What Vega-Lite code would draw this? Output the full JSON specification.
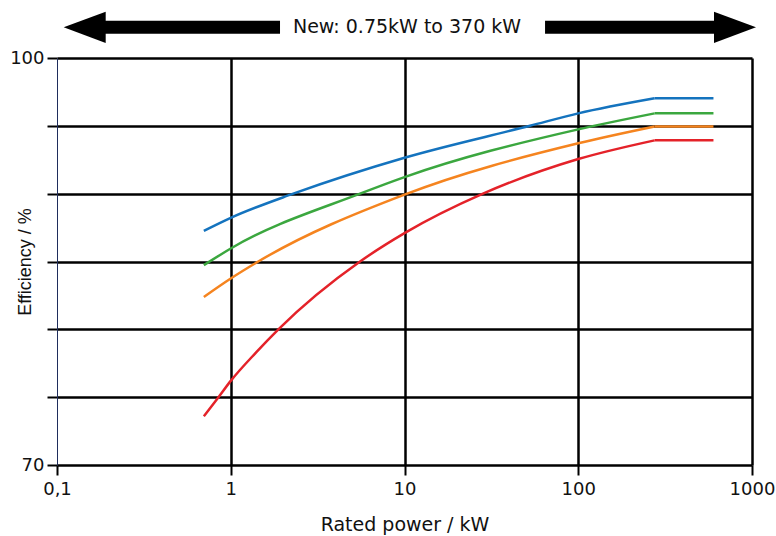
{
  "$schema": "https://vega.github.io/schema/vega-lite/v6.json",
  "width": 695,
  "height": 407,
  "autosize": {"type": "none"},
  "padding": {"left": 57, "top": 58, "right": 24, "bottom": 71},
  "background": "white",
  "config": {"view": {"stroke": null}, "font": "DejaVu Sans"},
  "datasets": {
    "curves": [
      {"kW": 0.7, "eff": 87.26, "cls": "IE4", "seg": "curve"},
      {"kW": 1, "eff": 88.22, "cls": "IE4", "seg": "curve"},
      {"kW": 2.29, "eff": 90.0, "cls": "IE4", "seg": "curve"},
      {"kW": 10, "eff": 92.65, "cls": "IE4", "seg": "curve"},
      {"kW": 52.7, "eff": 95.0, "cls": "IE4", "seg": "curve"},
      {"kW": 100, "eff": 95.92, "cls": "IE4", "seg": "curve"},
      {"kW": 275, "eff": 97.03, "cls": "IE4", "seg": "curve"},
      {"kW": 275, "eff": 97.03, "cls": "IE4", "seg": "flat"},
      {"kW": 600, "eff": 97.03, "cls": "IE4", "seg": "flat"},
      {"kW": 0.7, "eff": 84.73, "cls": "IE3", "seg": "curve"},
      {"kW": 1, "eff": 85.96, "cls": "IE3", "seg": "curve"},
      {"kW": 5.55, "eff": 90.0, "cls": "IE3", "seg": "curve"},
      {"kW": 10, "eff": 91.22, "cls": "IE3", "seg": "curve"},
      {"kW": 100, "eff": 94.74, "cls": "IE3", "seg": "curve"},
      {"kW": 275, "eff": 95.92, "cls": "IE3", "seg": "curve"},
      {"kW": 275, "eff": 95.92, "cls": "IE3", "seg": "flat"},
      {"kW": 600, "eff": 95.92, "cls": "IE3", "seg": "flat"},
      {"kW": 0.7, "eff": 82.39, "cls": "IE2", "seg": "curve"},
      {"kW": 1, "eff": 83.75, "cls": "IE2", "seg": "curve"},
      {"kW": 1.44, "eff": 85.0, "cls": "IE2", "seg": "curve"},
      {"kW": 10, "eff": 89.93, "cls": "IE2", "seg": "curve"},
      {"kW": 100, "eff": 93.71, "cls": "IE2", "seg": "curve"},
      {"kW": 275, "eff": 94.95, "cls": "IE2", "seg": "curve"},
      {"kW": 275, "eff": 94.95, "cls": "IE2", "seg": "flat"},
      {"kW": 600, "eff": 94.95, "cls": "IE2", "seg": "flat"},
      {"kW": 0.7, "eff": 73.59, "cls": "IE1", "seg": "curve"},
      {"kW": 0.85, "eff": 75.0, "cls": "IE1", "seg": "curve"},
      {"kW": 1, "eff": 76.2, "cls": "IE1", "seg": "curve"},
      {"kW": 1.4, "eff": 78.3, "cls": "IE1", "seg": "curve"},
      {"kW": 1.88, "eff": 80.0, "cls": "IE1", "seg": "curve"},
      {"kW": 5.55, "eff": 85.0, "cls": "IE1", "seg": "curve"},
      {"kW": 10, "eff": 87.09, "cls": "IE1", "seg": "curve"},
      {"kW": 28.3, "eff": 90.0, "cls": "IE1", "seg": "curve"},
      {"kW": 100, "eff": 92.55, "cls": "IE1", "seg": "curve"},
      {"kW": 275, "eff": 93.93, "cls": "IE1", "seg": "curve"},
      {"kW": 275, "eff": 93.93, "cls": "IE1", "seg": "flat"},
      {"kW": 600, "eff": 93.93, "cls": "IE1", "seg": "flat"}
    ],
    "arrowBars": [
      {"from": 0.1768, "to": 1.921, "pos": 102.26},
      {"from": 64.4, "to": 654, "pos": 102.26}
    ],
    "arrowLeft": [{"kW": 0.1443, "pos": 102.26}],
    "arrowRight": [{"kW": 798, "pos": 102.26}],
    "note": [{"kW": 10.34, "pos": 102.26, "text": "New: 0.75kW to 370 kW"}]
  },
  "layer": [
    {
      "data": {"name": "curves"},
      "mark": {"type": "line", "interpolate": "monotone", "strokeWidth": 2.5},
      "encoding": {
        "x": {
          "field": "kW", "type": "quantitative",
          "scale": {"type": "log", "domain": [0.1, 1000], "nice": false},
          "axis": {
            "title": "Rated power / kW",
            "values": [0.1, 1, 10, 100, 1000],
            "labelExpr": "datum.value < 0.5 ? '0,1' : format(datum.value, 'd')",
            "labelFlush": false, "labelOverlap": false,
            "labelFont": "DejaVu Sans", "labelFontSize": 18, "labelColor": "#111", "labelPadding": 5,
            "tickSize": 10, "tickColor": "black", "tickWidth": 2,
            "domain": false,
            "grid": true,
            "gridColor": "black",
            "gridWidth": 2.5,
            "gridOpacity": {"condition": {"test": "datum.value < 0.5", "value": 0}, "value": 1},
            "titleFont": "DejaVu Sans", "titleFontSize": 19, "titleFontWeight": "normal", "titleColor": "#111",
            "titlePadding": 17
          }
        },
        "y": {
          "field": "eff", "type": "quantitative",
          "scale": {"domain": [70, 100], "nice": false, "zero": false},
          "axis": {
            "title": "Efficiency / %",
            "values": [70, 75, 80, 85, 90, 95, 100],
            "labelExpr": "datum.value == 70 || datum.value == 100 ? format(datum.value, 'd') : ''",
            "labelFont": "DejaVu Sans", "labelFontSize": 18, "labelColor": "#111", "labelPadding": 3,
            "tickSize": 10, "tickColor": "black", "tickWidth": 2,
            "domain": true, "domainColor": "#1f2d5c", "domainWidth": 1,
            "grid": true, "gridColor": "black", "gridWidth": 2.5, "gridOpacity": 1,
            "titleFont": "Liberation Sans", "titleFontSize": 18, "titleFontWeight": "normal", "titleColor": "#111",
            "titlePadding": -25
          }
        },
        "color": {
          "field": "cls", "type": "nominal",
          "scale": {"domain": ["IE1", "IE2", "IE3", "IE4"], "range": ["#e42229", "#f5841f", "#3ba73f", "#1473be"]},
          "legend": null
        },
        "detail": {"field": "seg"}
      }
    },
    {
      "data": {"name": "arrowBars"},
      "mark": {"type": "rule", "strokeWidth": 13, "color": "black", "strokeCap": "butt"},
      "encoding": {
        "x": {"field": "from", "type": "quantitative"},
        "x2": {"field": "to"},
        "y": {"field": "pos", "type": "quantitative"}
      }
    },
    {
      "data": {"name": "arrowLeft"},
      "mark": {"type": "point", "shape": "M -1 0 L 1 -0.74 L 1 0.74 Z", "size": 1764, "filled": true, "color": "black", "opacity": 1, "strokeWidth": 0},
      "encoding": {
        "x": {"field": "kW", "type": "quantitative"},
        "y": {"field": "pos", "type": "quantitative"}
      }
    },
    {
      "data": {"name": "arrowRight"},
      "mark": {"type": "point", "shape": "M 1 0 L -1 -0.74 L -1 0.74 Z", "size": 1764, "filled": true, "color": "black", "opacity": 1, "strokeWidth": 0},
      "encoding": {
        "x": {"field": "kW", "type": "quantitative"},
        "y": {"field": "pos", "type": "quantitative"}
      }
    },
    {
      "data": {"name": "note"},
      "mark": {"type": "text", "font": "DejaVu Sans", "fontSize": 19, "align": "center", "baseline": "middle", "color": "#111"},
      "encoding": {
        "x": {"field": "kW", "type": "quantitative"},
        "y": {"field": "pos", "type": "quantitative"},
        "text": {"field": "text"}
      }
    }
  ]
}
